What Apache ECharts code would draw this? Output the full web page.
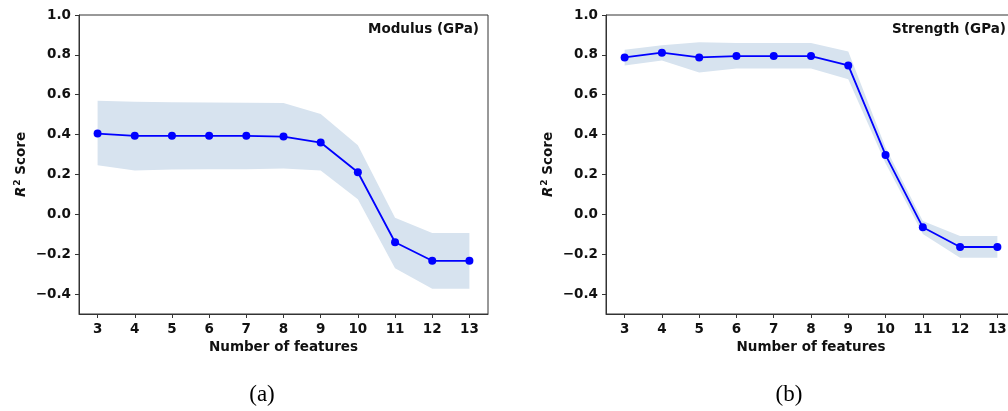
<!DOCTYPE html>
<html>
<head>
<meta charset="utf-8">
<script src="https://cdn.jsdelivr.net/npm/echarts@6/dist/echarts.min.js"></script>
<style>
  html, body { margin: 0; padding: 0; background: #fff; }
  #chart { width: 1008px; height: 411px; }
</style>
</head>
<body>
<div id="chart"></div>
<script>
// Number of selected features on the x axis
const features = ['3', '4', '5', '6', '7', '8', '9', '10', '11', '12', '13'];

// Modulus (GPa): mean R² score and the upper / lower edges of the spread band
const modulusMean  = [0.405, 0.394, 0.394, 0.394, 0.394, 0.390, 0.360, 0.211, -0.140, -0.233, -0.233];
const modulusUpper = [0.570, 0.565, 0.562, 0.561, 0.560, 0.558, 0.503, 0.347, -0.017, -0.094, -0.094];
const modulusLower = [0.246, 0.220, 0.225, 0.226, 0.226, 0.230, 0.220, 0.076, -0.271, -0.373, -0.373];

// Strength (GPa): mean R² score and the upper / lower edges of the spread band
const strengthMean  = [0.787, 0.811, 0.787, 0.794, 0.794, 0.794, 0.747, 0.298, -0.065, -0.164, -0.164];
const strengthUpper = [0.826, 0.848, 0.863, 0.859, 0.859, 0.859, 0.817, 0.335, -0.033, -0.109, -0.109];
const strengthLower = [0.747, 0.772, 0.712, 0.732, 0.732, 0.732, 0.678, 0.256, -0.099, -0.218, -0.218];

// Y tick labels
const yTicks = [-0.4, -0.2, 0.0, 0.2, 0.4, 0.6, 0.8, 1.0];

const panelTitles = ['Modulus (GPa)', 'Strength (GPa)'];
const captions = ['(a)', '(b)'];

const FONT = 'DejaVu Sans';
const FS = 13.5;
const TEXT = '#111';
const AXIS = '#333';
const BAND = '#d7e3ef';
const LINE = '#0000ff';

// second panel runs past the right edge of the page, so it gets an explicit width
const grids = [
  { left: 79, width: 409, top: 15, bottom: 97 },
  { left: 606, width: 410, top: 15, bottom: 97 }
];

function xAxisFor(i) {
  return {
    type: 'category', gridIndex: i, data: features, boundaryGap: true,
    axisLine: { show: true, onZero: false, lineStyle: { color: AXIS, width: 1 } },
    axisTick: { show: true, alignWithLabel: true, length: 4, lineStyle: { color: AXIS } },
    axisLabel: { margin: 8, color: TEXT, fontFamily: FONT, fontWeight: 'bold', fontSize: FS },
    splitLine: { show: false },
    name: 'Number of features', nameLocation: 'middle', nameGap: 26,
    nameTextStyle: { color: TEXT, fontFamily: FONT, fontWeight: 'bold', fontSize: FS }
  };
}

function yAxisFor(i) {
  return {
    type: 'value', gridIndex: i, min: -0.5, max: 1.0,
    axisLine: { show: true, onZero: false, lineStyle: { color: AXIS, width: 1 } },
    axisTick: { show: true, length: 4, customValues: yTicks, lineStyle: { color: AXIS } },
    axisLabel: {
      customValues: yTicks, margin: 8, color: TEXT, fontFamily: FONT, fontWeight: 'bold', fontSize: FS,
      formatter: v => (v < -1e-9 ? '\u2212' : '') + Math.abs(v).toFixed(1)
    },
    splitLine: { show: false },
    name: '{r|R}{s|2}{t| Score}', nameLocation: 'middle', nameGap: 50, nameRotate: 90,
    nameTextStyle: {
      color: TEXT, fontFamily: FONT, fontWeight: 'bold', fontSize: FS,
      rich: {
        r: { fontFamily: FONT, fontWeight: 'bold', fontStyle: 'italic', fontSize: FS, color: TEXT },
        s: { fontFamily: FONT, fontWeight: 'bold', fontSize: 9, color: TEXT, verticalAlign: 'top', padding: [0, 0, 7, 1] },
        t: { fontFamily: FONT, fontWeight: 'bold', fontSize: FS, color: TEXT }
      }
    }
  };
}

function panelSeries(i, mean, upper, lower) {
  const width = upper.map((u, k) => +(u - lower[k]).toFixed(4));
  const stackId = 'band' + i;
  return [
    {
      type: 'line', xAxisIndex: i, yAxisIndex: i, data: lower,
      stack: stackId, stackStrategy: 'all', symbol: 'none', silent: true,
      lineStyle: { opacity: 0 }, z: 1
    },
    {
      type: 'line', xAxisIndex: i, yAxisIndex: i, data: width,
      stack: stackId, stackStrategy: 'all', symbol: 'none', silent: true,
      lineStyle: { opacity: 0 }, areaStyle: { color: BAND, opacity: 1 }, z: 1
    },
    {
      type: 'line', xAxisIndex: i, yAxisIndex: i, data: mean,
      symbol: 'circle', symbolSize: 8, showSymbol: true,
      lineStyle: { color: LINE, width: 1.8 },
      itemStyle: { color: LINE, borderWidth: 0 }, z: 3
    }
  ];
}

const chart = echarts.init(document.getElementById('chart'), null, { renderer: 'canvas' });

chart.setOption({
  backgroundColor: '#fff',
  animation: false,
  grid: grids.map(g => Object.assign({
    show: true, borderColor: AXIS, borderWidth: 1, backgroundColor: 'transparent',
    containLabel: false, outerBoundsMode: 'none'
  }, g)),
  xAxis: [xAxisFor(0), xAxisFor(1)],
  yAxis: [yAxisFor(0), yAxisFor(1)],
  title: [
    { text: panelTitles[0], right: 529, top: 22, padding: 0,
      textStyle: { color: TEXT, fontFamily: FONT, fontWeight: 'bold', fontSize: FS } },
    { text: panelTitles[1], right: 2, top: 22, padding: 0,
      textStyle: { color: TEXT, fontFamily: FONT, fontWeight: 'bold', fontSize: FS } }
  ],
  graphic: [
    { type: 'text', x: 262, y: 395, style: { text: captions[0], font: '23px "Liberation Serif"', fill: '#000', align: 'center', verticalAlign: 'middle' } },
    { type: 'text', x: 789, y: 395, style: { text: captions[1], font: '23px "Liberation Serif"', fill: '#000', align: 'center', verticalAlign: 'middle' } }
  ],
  series: [
    ...panelSeries(0, modulusMean, modulusUpper, modulusLower),
    ...panelSeries(1, strengthMean, strengthUpper, strengthLower)
  ]
});
</script>
</body>
</html>
